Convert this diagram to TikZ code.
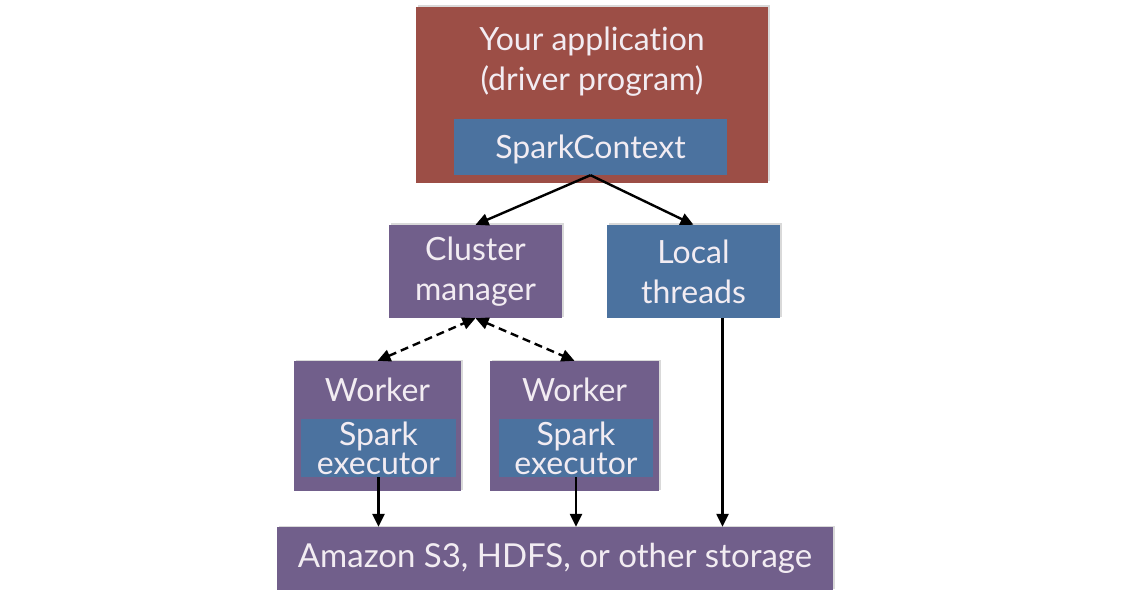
\documentclass[tikz,border=0pt]{standalone}
\usepackage{fontspec}
\setmainfont[Ligatures={NoCommon}]{Lato}
\usetikzlibrary{arrows.meta}
\definecolor{drvred}{HTML}{9C4E46}
\definecolor{spblue}{HTML}{4B729F}
\definecolor{sppurple}{HTML}{715F8B}
\definecolor{txtwhite}{HTML}{F2ECF2}
\tikzset{
  redbox/.style={fill=drvred},
  bluebox/.style={fill=spblue},
  purplebox/.style={fill=sppurple},
  shadowed/.style={preaction={fill=black!15, transform canvas={shift={(1.5pt,1.5pt)}}}},
  lbl/.style={text=txtwhite, font=\fontsize{32}{40}\selectfont, align=center, inner sep=0pt},
  lbltight/.style={text=txtwhite, font=\fontsize{32}{29}\selectfont, align=center, inner sep=0pt},
  conn/.style={line width=2.4pt, -{Triangle[length=13pt,width=12pt]}},
  dconn/.style={line width=2.4pt, dash pattern=on 8pt off 5pt, {Triangle[length=13pt,width=12pt]}-{Triangle[length=13pt,width=12pt]}}
}
\begin{document}
\begin{tikzpicture}[x=1pt,y=-1pt]
\useasboundingbox[fill=white] (0,0) rectangle (1138,596);
% driver
\node[redbox, shadowed, inner sep=0pt, minimum width=352pt, minimum height=176pt] (drv) at (592,95) {};
\node[lbl] (drvtext) at (592,62) {Your application\\(driver program)};
\node[bluebox, inner sep=0pt, minimum width=273pt, minimum height=56pt] (sc) at (590.5,147) {};
\node[lbl] (sctext) at ([yshift=-2pt]sc.center) {SparkContext};
% cluster manager and local threads
\node[purplebox, shadowed, inner sep=0pt, minimum width=173pt, minimum height=93pt, lbl] (cm) at (475.5,271.5) {Cluster\\manager};
\node[bluebox, shadowed, inner sep=0pt, minimum width=173pt, minimum height=93pt, lbl] (lt) at (693.5,271.5) {Local\\threads};
% workers
\node[purplebox, shadowed, inner sep=0pt, minimum width=167pt, minimum height=130pt] (w1) at (377.5,426) {};
\node[lbl] (w1text) at (377.5,390) {Worker};
\node[bluebox, inner sep=0pt, minimum width=155pt, minimum height=58pt, lbltight] (e1) at (378.5,448) {Spark\\executor};
\node[purplebox, shadowed, inner sep=0pt, minimum width=169pt, minimum height=130pt] (w2) at (574.5,426) {};
\node[lbl] (w2text) at (574.5,390) {Worker};
\node[bluebox, inner sep=0pt, minimum width=154pt, minimum height=58pt, lbltight] (e2) at (576,448) {Spark\\executor};
% storage
\node[purplebox, shadowed, inner sep=0pt, minimum width=556pt, minimum height=63pt, lbl, font=\fontsize{33}{40}\selectfont] (st) at (555,558.5) {Amazon S3, HDFS, or other storage};
% connectors
\draw[conn] (sc.south) -- (cm.north);
\draw[conn] (sc.south) -- (lt.north);
\draw[dconn] (w1.north) -- (cm.south);
\draw[dconn] (cm.south) -- (w2.north);
\draw[conn] (e1.south) -- (e1.south |- st.north);
\draw[conn] (e2.south) -- (e2.south |- st.north);
\coordinate (ltout) at ([xshift=29pt]lt.south);
\draw[conn] (ltout) -- (ltout |- st.north);
\end{tikzpicture}
\end{document}
